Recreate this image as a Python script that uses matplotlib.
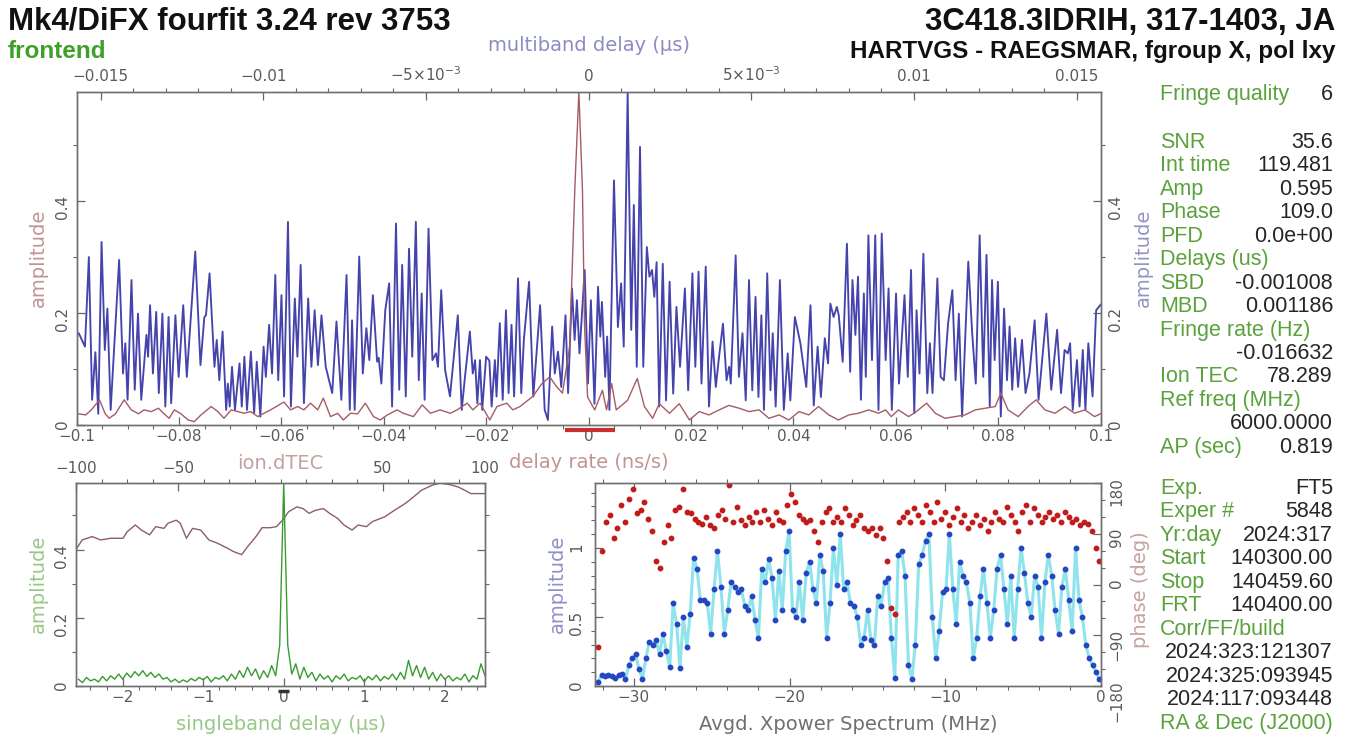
import matplotlib
matplotlib.use("Agg")
import matplotlib.pyplot as plt
import numpy as np
from matplotlib.ticker import FixedLocator, FixedFormatter, MultipleLocator, FuncFormatter
from matplotlib.transforms import blended_transform_factory

W, H = 1357, 740

# multiband delay amplitude (delay in ns, amplitude)
mbd_points = [
    (-15.74, 0.16), (-15.67, 0.164), (-15.48, 0.14), (-15.36, 0.30), (-15.26, 0.045), (-15.16, 0.13),
    (-15.07, 0.02), (-14.97, 0.327), (-14.87, 0.134), (-14.79, 0.208), (-14.69, 0.027), (-14.43, 0.295),
    (-14.31, 0.092), (-14.24, 0.146), (-14.17, 0.045), (-14.05, 0.259), (-13.95, 0.063), (-13.85, 0.199),
    (-13.75, 0.045), (-13.59, 0.161), (-13.54, 0.122), (-13.48, 0.214), (-13.39, 0.092), (-13.29, 0.202),
    (-13.21, 0.057), (-13.10, 0.199), (-13.01, 0.033), (-12.91, 0.193), (-12.83, 0.039), (-12.70, 0.196),
    (-12.60, 0.086), (-12.46, 0.214), (-12.35, 0.086), (-12.09, 0.31), (-11.93, 0.107), (-11.81, 0.193),
    (-11.76, 0.196), (-11.65, 0.271), (-11.50, 0.104), (-11.43, 0.152), (-11.35, 0.080), (-11.25, 0.167),
    (-11.14, 0.027), (-11.09, 0.074), (-11.03, 0.033), (-10.96, 0.104), (-10.87, 0.027), (-10.73, 0.110),
    (-10.66, 0.033), (-10.58, 0.122), (-10.50, 0.027), (-10.38, 0.131), (-10.28, 0.021), (-10.20, 0.113),
    (-10.09, 0.015), (-9.99, 0.140), (-9.92, 0.086), (-9.82, 0.179), (-9.73, 0.092), (-9.63, 0.268),
    (-9.54, 0.080), (-9.44, 0.232), (-9.36, 0.051), (-9.24, 0.363), (-9.15, 0.033), (-9.03, 0.226),
    (-8.95, 0.122), (-8.85, 0.286), (-8.75, 0.039), (-8.62, 0.226), (-8.52, 0.104), (-8.42, 0.205),
    (-8.32, 0.107), (-8.21, 0.196), (-8.08, 0.104), (-7.88, 0.057), (-7.75, 0.185), (-7.60, 0.045),
    (-7.44, 0.268), (-7.34, 0.027), (-7.27, 0.187), (-7.19, 0.027), (-7.05, 0.301), (-6.94, 0.092),
    (-6.83, 0.173), (-6.74, 0.116), (-6.63, 0.232), (-6.50, 0.113), (-6.45, 0.12), (-6.37, 0.074),
    (-6.25, 0.205), (-6.13, 0.253), (-6.04, 0.033), (-5.92, 0.36), (-5.82, 0.063), (-5.73, 0.286),
    (-5.62, 0.051), (-5.52, 0.315), (-5.42, 0.122), (-5.31, 0.363), (-5.22, 0.080), (-5.13, 0.235),
    (-5.04, 0.045), (-4.92, 0.351), (-4.80, 0.116), (-4.69, 0.128), (-4.63, 0.104), (-4.53, 0.241),
    (-4.41, 0.098), (-4.26, 0.051), (-4.02, 0.196), (-3.90, 0.027), (-3.80, 0.086), (-3.65, 0.167),
    (-3.56, 0.092), (-3.49, 0.116), (-3.42, 0.039), (-3.34, 0.116), (-3.27, 0.027), (-3.15, 0.122),
    (-3.05, 0.115), (-2.98, 0.033), (-2.88, 0.116), (-2.83, 0.051), (-2.73, 0.182), (-2.64, 0.045),
    (-2.54, 0.205), (-2.46, 0.057), (-2.37, 0.179), (-2.29, 0.051), (-2.17, 0.262), (-2.07, 0.057),
    (-1.99, 0.152), (-1.83, 0.256), (-1.70, 0.051), (-1.49, 0.214), (-1.35, 0.027), (-1.25, 0.009),
    (-1.12, 0.176), (-1.04, 0.092), (-0.94, 0.131), (-0.84, 0.068), (-0.71, 0.196), (-0.63, 0.057),
    (-0.51, 0.244), (-0.43, 0.152), (-0.36, 0.223), (-0.28, 0.128), (-0.12, 0.277), (-0.02, 0.074),
    (0.07, 0.223), (0.18, 0.038), (0.29, 0.247), (0.36, 0.158), (0.41, 0.220), (0.51, 0.086),
    (0.57, 0.158), (0.64, 0.027), (0.78, 0.437), (0.90, 0.175), (1.00, 0.253), (1.08, 0.14),
    (1.20, 0.595), (1.31, 0.17), (1.39, 0.393), (1.48, 0.104), (1.58, 0.497), (1.68, 0.104),
    (1.79, 0.318), (1.87, 0.265), (1.95, 0.277), (2.02, 0.229), (2.09, 0.291), (2.17, 0.033),
    (2.28, 0.288), (2.38, 0.044), (2.49, 0.256), (2.60, 0.056), (2.70, 0.211), (2.81, 0.104),
    (2.96, 0.244), (3.06, 0.062), (3.19, 0.271), (3.28, 0.104), (3.38, 0.274), (3.47, 0.074),
    (3.60, 0.283), (3.70, 0.033), (3.81, 0.149), (3.91, 0.068), (4.01, 0.122), (4.13, 0.181),
    (4.24, 0.080), (4.32, 0.104), (4.37, 0.074), (4.52, 0.303), (4.62, 0.086), (4.73, 0.164),
    (4.83, 0.044), (4.93, 0.259), (5.03, 0.062), (5.13, 0.229), (5.22, 0.050), (5.31, 0.196),
    (5.39, 0.027), (5.49, 0.271), (5.59, 0.062), (5.66, 0.164), (5.75, 0.033), (5.88, 0.259),
    (6.00, 0.027), (6.12, 0.128), (6.20, 0.044), (6.34, 0.193), (6.51, 0.146), (6.69, 0.068),
    (6.82, 0.214), (6.92, 0.035), (7.04, 0.14), (7.14, 0.050), (7.26, 0.155), (7.36, 0.110),
    (7.43, 0.217), (7.53, 0.193), (7.63, 0.211), (7.69, 0.196), (7.81, 0.113), (7.94, 0.324),
    (8.04, 0.095), (8.11, 0.259), (8.20, 0.161), (8.28, 0.265), (8.37, 0.045), (8.46, 0.235),
    (8.52, 0.086), (8.60, 0.339), (8.71, 0.116), (8.81, 0.339), (8.91, 0.027), (9.01, 0.342),
    (9.13, 0.116), (9.22, 0.244), (9.32, 0.027), (9.45, 0.235), (9.54, 0.074), (9.71, 0.232),
    (9.81, 0.086), (9.91, 0.277), (10.01, 0.021), (10.08, 0.205), (10.17, 0.092), (10.29, 0.306),
    (10.41, 0.057), (10.49, 0.146), (10.57, 0.057), (10.72, 0.262), (10.82, 0.086), (10.92, 0.080),
    (11.05, 0.182), (11.18, 0.241), (11.28, 0.080), (11.38, 0.199), (11.48, 0.015), (11.67, 0.292),
    (11.79, 0.164), (11.90, 0.074), (12.02, 0.339), (12.13, 0.086), (12.23, 0.304), (12.33, 0.033),
    (12.40, 0.259), (12.48, 0.116), (12.58, 0.256), (12.67, 0.015), (12.77, 0.208), (12.86, 0.080),
    (12.94, 0.176), (13.02, 0.063), (13.11, 0.155), (13.20, 0.068), (13.32, 0.152), (13.43, 0.057),
    (13.55, 0.092), (13.71, 0.187), (13.83, 0.045), (14.07, 0.199), (14.22, 0.063), (14.40, 0.170),
    (14.52, 0.057), (14.63, 0.134), (14.73, 0.128), (14.80, 0.146), (14.88, 0.027), (15.01, 0.116),
    (15.09, 0.033), (15.19, 0.134), (15.27, 0.027), (15.36, 0.146), (15.49, 0.051), (15.60, 0.205),
    (15.74, 0.215),
]

# delay rate amplitude (ns/s, amplitude)
rate_points = [
    (-0.1000, 0.02), (-0.0996, 0.02), (-0.0982, 0.018), (-0.0971, 0.027), (-0.0955, 0.045), (-0.0944, 0.02),
    (-0.0936, 0.012), (-0.0924, 0.02), (-0.0907, 0.045), (-0.0893, 0.027), (-0.0879, 0.02), (-0.0868, 0.027),
    (-0.0854, 0.024), (-0.0840, 0.03), (-0.0829, 0.02), (-0.0819, 0.012), (-0.0809, 0.027), (-0.0796, 0.02),
    (-0.0782, 0.009), (-0.0770, 0.006), (-0.0757, 0.018), (-0.0737, 0.033), (-0.0724, 0.024), (-0.0712, 0.012),
    (-0.0698, 0.027), (-0.0685, 0.024), (-0.0673, 0.021), (-0.0660, 0.024), (-0.0646, 0.015), (-0.0634, 0.021),
    (-0.0621, 0.027), (-0.0595, 0.041), (-0.0582, 0.027), (-0.0568, 0.033), (-0.0556, 0.027), (-0.0543, 0.039),
    (-0.0529, 0.027), (-0.0518, 0.048), (-0.0504, 0.015), (-0.0490, 0.021), (-0.0479, 0.009), (-0.0465, 0.021),
    (-0.0451, 0.02), (-0.0436, 0.039), (-0.0420, 0.015), (-0.0407, 0.009), (-0.0393, 0.018), (-0.0374, 0.027),
    (-0.0362, 0.021), (-0.0342, 0.015), (-0.0325, 0.036), (-0.0309, 0.021), (-0.0290, 0.027), (-0.0270, 0.021),
    (-0.0257, 0.027), (-0.0237, 0.039), (-0.0226, 0.027), (-0.0212, 0.039), (-0.0193, 0.009), (-0.0179, 0.033),
    (-0.0160, 0.039), (-0.0148, 0.027), (-0.0134, 0.033), (-0.0109, 0.051), (-0.0091, 0.074), (-0.0076, 0.086),
    (-0.0062, 0.068), (-0.0051, 0.057), (-0.0037, 0.14), (-0.0027, 0.42), (-0.0019, 0.595), (-0.0012, 0.42),
    (-0.0008, 0.18), (-0.0002, 0.05), (0.0012, 0.027), (0.0027, 0.062), (0.0035, 0.027), (0.0045, 0.074),
    (0.0054, 0.027), (0.0076, 0.044), (0.0095, 0.083), (0.0109, 0.033), (0.0125, 0.012), (0.0138, 0.038),
    (0.0158, 0.021), (0.0177, 0.038), (0.0197, 0.009), (0.0216, 0.024), (0.0235, 0.018), (0.0255, 0.027),
    (0.0274, 0.035), (0.0294, 0.03), (0.0313, 0.024), (0.0333, 0.027), (0.0352, 0.012), (0.0372, 0.018),
    (0.0391, 0.009), (0.0411, 0.024), (0.0430, 0.018), (0.0449, 0.033), (0.0469, 0.018), (0.0488, 0.009),
    (0.0508, 0.018), (0.0527, 0.021), (0.0547, 0.027), (0.0566, 0.021), (0.0580, 0.027), (0.0591, 0.015),
    (0.0605, 0.027), (0.0625, 0.015), (0.0640, 0.024), (0.0660, 0.039), (0.0677, 0.021), (0.0696, 0.012),
    (0.0716, 0.015), (0.0735, 0.018), (0.0755, 0.027), (0.0774, 0.03), (0.0794, 0.033), (0.0805, 0.057),
    (0.0819, 0.027), (0.0839, 0.015), (0.0858, 0.033), (0.0874, 0.045), (0.0891, 0.027), (0.0911, 0.021),
    (0.0930, 0.033), (0.0949, 0.021), (0.0969, 0.027), (0.0988, 0.015), (0.1000, 0.02),
]
rate_window = (-0.0047, 0.0051)

# singleband delay amplitude, one value every 0.05 us from -2.55 us
sbd_start, sbd_step = -2.55, 0.05
sbd_amp = [
    0.02, 0.01, 0.025, 0.015, 0.02, 0.012, 0.028, 0.015, 0.03, 0.02,
    0.035, 0.02, 0.038, 0.025, 0.042, 0.03, 0.045, 0.028, 0.04, 0.025,
    0.035, 0.02, 0.025, 0.012, 0.02, 0.01, 0.018, 0.012, 0.022, 0.015,
    0.025, 0.018, 0.028, 0.012, 0.025, 0.02, 0.03, 0.015, 0.035, 0.02,
    0.045, 0.025, 0.055, 0.03, 0.05, 0.02, 0.045, 0.025, 0.06, 0.03,
    0.12, 0.595, 0.12, 0.035, 0.065, 0.02, 0.055, 0.025, 0.04, 0.015,
    0.035, 0.02, 0.03, 0.012, 0.03, 0.02, 0.035, 0.015, 0.025, 0.02,
    0.03, 0.012, 0.028, 0.018, 0.032, 0.015, 0.028, 0.02, 0.035, 0.018,
    0.04, 0.02, 0.075, 0.03, 0.06, 0.025, 0.055, 0.02, 0.04, 0.015,
    0.035, 0.02, 0.03, 0.015, 0.025, 0.018, 0.035, 0.012, 0.03, 0.02,
    0.065, 0.03,
]
sbd_window = (-0.07, 0.07)

# ionosphere search (dTEC, amplitude)
ion_points = [
    (-100, 0.40), (-97, 0.428), (-92, 0.438), (-88, 0.428), (-83, 0.433), (-77, 0.433), (-75, 0.452),
    (-71, 0.472), (-68, 0.457), (-64, 0.443), (-61, 0.467), (-57, 0.462), (-55, 0.477), (-51, 0.486),
    (-49, 0.477), (-46, 0.433), (-43, 0.462), (-39, 0.457), (-35, 0.428), (-31, 0.419), (-26, 0.404),
    (-23, 0.394), (-19, 0.385), (-16, 0.409), (-12, 0.438), (-9, 0.464), (-5, 0.464), (-2, 0.467),
    (1, 0.486), (4, 0.511), (8, 0.525), (11, 0.520), (14, 0.506), (17, 0.515), (21, 0.520), (24, 0.506),
    (28, 0.491), (31, 0.472), (35, 0.457), (38, 0.472), (42, 0.467), (45, 0.482), (51, 0.496), (56, 0.516),
    (61, 0.535), (65, 0.554), (69, 0.574), (74, 0.588), (78, 0.595), (83, 0.590), (87, 0.583), (90, 0.574),
    (93, 0.564), (97, 0.564), (100, 0.564),
]

# cross power spectrum, channels evenly spread over the band
xp_band = (-32.3, -0.1)
xp_amp = [
    0.03, 0.08, 0.07, 0.08, 0.07, 0.06, 0.08, 0.09, 0.05, 0.15, 0.20, 0.23, 0.12, 0.05, 0.20, 0.32,
    0.30, 0.33, 0.23, 0.38, 0.25, 0.14, 0.60, 0.45, 0.13, 0.50, 0.28, 0.52, 0.93, 0.85, 0.62, 0.62,
    0.60, 0.38, 0.70, 0.98, 0.72, 0.38, 0.55, 0.75, 0.72, 0.68, 0.70, 0.58, 0.55, 0.65, 0.48, 0.35,
    0.85, 0.75, 0.92, 0.78, 0.48, 0.83, 0.55, 0.98, 1.12, 0.55, 0.50, 0.75, 0.48, 0.82, 0.90, 0.70,
    0.60, 0.95, 0.83, 0.35, 0.60, 1.00, 0.73, 1.10, 0.70, 0.75, 0.60, 0.58, 0.50, 0.30, 0.35, 0.55,
    0.33, 0.30, 0.65, 0.58, 0.75, 0.78, 0.35, 0.06, 0.95, 0.98, 0.80, 0.15, 0.05, 0.30, 0.88, 0.95,
    1.05, 1.10, 0.50, 0.20, 0.40, 0.68, 0.70, 1.10, 0.70, 0.45, 0.90, 0.80, 0.75, 0.60, 0.20, 0.35,
    0.65, 0.85, 0.60, 0.35, 0.55, 0.85, 0.95, 0.70, 0.45, 0.80, 0.35, 0.70, 1.00, 0.82, 0.60, 0.50,
    0.80, 0.72, 0.35, 0.75, 0.95, 0.80, 0.55, 0.38, 0.72, 0.85, 0.62, 0.40, 1.00, 0.62, 0.50, 0.30,
    0.20, 0.15, 0.10, 0.05,
]
xp_phase = [
    -111, 59, 111, 123, 82, 100, 141, 111, 152, 170, 126, 132, 147, 117, 94, 41, 29, 76, 105, 82,
    132, 138, 170, 129, 126, 117, 111, 108, 120, 105, 100, 123, 132, 117, 176, 111, 138, 114, 105, 120,
    111, 129, 111, 132, 117, 105, 129, 114, 111, 141, 161, 147, 123, 117, 111, 114, 94, 76, 111, 129,
    135, 111, 120, 111, 135, 123, 105, 114, 123, 100, 94, 100, 88, 100, 82, 41, -41, -53, 111, 120,
    129, 111, 135, 123, 111, 141, 129, 111, 147, 117, 129, 105, 120, 135, 111, 123, 100, 111, 123, 105,
    117, 94, 111, 129, 117, 111, 138, 123, 111, 94, 129, 141, 111, 135, 123, 111, 120, 129, 117, 123,
    111, 129, 120, 111, 117, 105, 111, 108, 94, 64, 41,
]

info_top = [
    ("SNR", "35.6"), ("Int time", "119.481"), ("Amp", "0.595"), ("Phase", "109.0"),
    ("PFD", "0.0e+00"), ("Delays (us)", ""), ("SBD", "-0.001008"), ("MBD", "0.001186"),
    ("Fringe rate (Hz)", ""), ("", "-0.016632"), ("Ion TEC", "78.289"), ("Ref freq (MHz)", ""),
    ("", "6000.0000"), ("AP (sec)", "0.819"),
]
info_bottom = [
    ("Exp.", "FT5"), ("Exper #", "5848"), ("Yr:day", "2024:317"), ("Start", "140300.00"),
    ("Stop", "140459.60"), ("FRT", "140400.00"), ("Corr/FF/build", ""), ("", "2024:323:121307"),
    ("", "2024:325:093945"), ("", "2024:117:093448"), ("RA & Dec (J2000)", ""),
]

plt.rcParams["font.family"] = "DejaVu Sans"
GREY = "#666666"
TICK_KW = dict(direction="in", colors=GREY, labelcolor="#5a5a5a", labelsize=11)


def fx(px):
    return px / W


def fy(py):
    return 1 - py / H


def style(ax):
    for sp in ax.spines.values():
        sp.set_color("#707070")
        sp.set_linewidth(1.0)
    ax.tick_params(which="major", length=6, width=0.9, **TICK_KW)
    ax.tick_params(which="minor", length=3, width=0.8, colors=GREY)


def num(v, pos=None):
    v = round(v, 6)
    if v == 0:
        return "0"
    return f"{v:g}".replace("-", "\u2212")


fig = plt.figure(figsize=(W / 100, H / 100), dpi=100)
fig.patch.set_facecolor("white")

# ---- top panel: delay rate (bottom axis) + multiband delay (top axis)
ax_r = fig.add_axes([fx(76.5), fy(425), fx(1100.7) - fx(76.5), (425 - 92) / H])
ax_m = ax_r.twiny()
ax_r.set_zorder(ax_m.get_zorder() + 1)
ax_r.patch.set_visible(False)

mbd_ns, mbd_amp = np.array(mbd_points).T
ax_m.plot(mbd_ns / 1000.0, mbd_amp, color="#4444ac", lw=1.35)
ax_m.set_xlim(-0.01574, 0.01574)

rate_x, rate_amp = np.array(rate_points).T
ax_r.plot(rate_x, rate_amp, color="#a45c66", lw=1.0)
ax_r.set_xlim(-0.1, 0.1)
ax_r.set_ylim(0, 0.595)
trans = blended_transform_factory(ax_r.transData, ax_r.transAxes)
ax_r.plot(rate_window, [-0.014, -0.014], color="#c83030", lw=3, transform=trans, clip_on=False,
          solid_capstyle="butt")

style(ax_r)
style(ax_m)
ax_r.xaxis.set_major_locator(MultipleLocator(0.02))
ax_r.xaxis.set_minor_locator(MultipleLocator(0.005))
ax_r.xaxis.set_major_formatter(FuncFormatter(num))
ax_r.yaxis.set_major_locator(MultipleLocator(0.2))
ax_r.yaxis.set_minor_locator(MultipleLocator(0.1))
ax_r.yaxis.set_major_formatter(FuncFormatter(num))
ax_r.tick_params(axis="x", which="both", top=False, pad=3)
ax_r.tick_params(axis="y", which="both", left=True, right=True, labelright=True, labelrotation=90, pad=5)

mbd_ticks = [-0.015, -0.01, -0.005, 0, 0.005, 0.01, 0.015]
ax_m.xaxis.set_major_locator(FixedLocator(mbd_ticks))
ax_m.xaxis.set_major_formatter(FixedFormatter(
    ["\u22120.015", "\u22120.01", r"$-5{\times}10^{-3}$", "0", r"$5{\times}10^{-3}$", "0.01", "0.015"]))
ax_m.xaxis.set_minor_locator(MultipleLocator(0.001))
ax_m.tick_params(axis="x", which="both", top=True, bottom=False, pad=6)

ax_r.text(0.5, 1.141, "multiband delay (\u00b5s)", transform=ax_r.transAxes, ha="center", va="center",
          fontsize=14, color="#8c8cc4")
ax_r.text(0.5, -0.114, "delay rate (ns/s)", transform=ax_r.transAxes, ha="center", va="center",
          fontsize=14, color="#c49494")
fig.text(fx(38), fy(258), "amplitude", rotation=90, ha="center", va="center", fontsize=14, color="#c09494")
fig.text(fx(1143), fy(258), "amplitude", rotation=90, ha="center", va="center", fontsize=14, color="#9494c4")

# ---- bottom left: singleband delay + ion TEC
ax_s = fig.add_axes([fx(76), fy(686), fx(485) - fx(76), (686 - 483) / H])
ax_i = ax_s.twiny()
ax_s.set_zorder(ax_i.get_zorder() + 1)
ax_s.patch.set_visible(False)

ion_x, ion_amp = np.array(ion_points).T
ax_i.plot(ion_x, ion_amp, color="#8c5e68", lw=1.0)
ax_i.set_xlim(-100, 100)

sbd_x = sbd_start + sbd_step * np.arange(len(sbd_amp))
ax_s.plot(sbd_x, sbd_amp, color="#3a9a32", lw=1.0)
ax_s.set_xlim(-2.58, 2.5)
ax_s.set_ylim(0, 0.595)
trans_s = blended_transform_factory(ax_s.transData, ax_s.transAxes)
ax_s.plot(sbd_window, [-0.025, -0.025], color="#333333", lw=2.5, transform=trans_s, clip_on=False,
          solid_capstyle="butt")

style(ax_s)
style(ax_i)
ax_s.xaxis.set_major_locator(MultipleLocator(1))
ax_s.xaxis.set_minor_locator(MultipleLocator(0.2))
ax_s.xaxis.set_major_formatter(FuncFormatter(num))
ax_s.yaxis.set_major_locator(MultipleLocator(0.2))
ax_s.yaxis.set_minor_locator(MultipleLocator(0.1))
ax_s.yaxis.set_major_formatter(FuncFormatter(num))
ax_s.tick_params(axis="x", which="both", top=False, pad=3)
ax_s.tick_params(axis="y", which="both", left=True, right=True, labelrotation=90, pad=5)
ax_i.xaxis.set_major_locator(FixedLocator([-100, -50, 50, 100]))
ax_i.xaxis.set_major_formatter(FuncFormatter(num))
ax_i.xaxis.set_minor_locator(MultipleLocator(12.5))
ax_i.tick_params(axis="x", which="both", top=True, bottom=False, pad=5)
ax_s.text(0.5, 1.098, "ion.dTEC", transform=ax_s.transAxes, ha="center", va="center",
          fontsize=14, color="#c4a0a0")
ax_s.text(0.5, -0.19, "singleband delay (\u00b5s)", transform=ax_s.transAxes, ha="center", va="center",
          fontsize=14, color="#98c888")
fig.text(fx(38), fy(584), "amplitude", rotation=90, ha="center", va="center", fontsize=14, color="#98c888")

# ---- bottom right: cross power spectrum
ax_x = fig.add_axes([fx(595), fy(686), fx(1101) - fx(595), (686 - 483) / H])
ax_p = ax_x.twinx()
xp_f = np.linspace(xp_band[0], xp_band[1], len(xp_amp))
xp_fp = np.linspace(xp_band[0], xp_band[1], len(xp_phase))
ax_x.plot(xp_f, xp_amp, color="#8fe3ec", lw=2.2, zorder=2)
ax_x.plot(xp_f, xp_amp, ls="none", marker="o", ms=3.2, color="#2446c0", zorder=3)
ax_p.plot(xp_fp, xp_phase, ls="none", marker="o", ms=3.2, color="#c01c1c")
ax_x.set_xlim(-32.5, 0)
ax_x.set_ylim(0, 1.47)
ax_p.set_ylim(-180, 180)

style(ax_x)
style(ax_p)
ax_x.xaxis.set_major_locator(MultipleLocator(10))
ax_x.xaxis.set_minor_locator(MultipleLocator(2))
ax_x.xaxis.set_major_formatter(FuncFormatter(num))
ax_x.yaxis.set_major_locator(MultipleLocator(0.5))
ax_x.yaxis.set_minor_locator(MultipleLocator(0.1))
ax_x.yaxis.set_major_formatter(FuncFormatter(num))
ax_x.tick_params(axis="x", which="both", top=True, pad=3)
ax_x.tick_params(axis="y", which="both", labelrotation=90, pad=8)
ax_p.yaxis.set_major_locator(FixedLocator([-180, -90, 0, 90, 180]))
ax_p.yaxis.set_major_formatter(FuncFormatter(num))
ax_p.yaxis.set_minor_locator(MultipleLocator(30))
ax_p.tick_params(axis="y", which="both", labelrotation=90, pad=6)
ax_x.text(0.5, -0.19, "Avgd. Xpower Spectrum (MHz)", transform=ax_x.transAxes, ha="center", va="center",
          fontsize=14, color="#707070")
fig.text(fx(557), fy(584), "amplitude", rotation=90, ha="center", va="center", fontsize=14, color="#9090c8")
fig.text(fx(1141), fy(590), "phase (deg)", rotation=90, ha="center", va="center", fontsize=14, color="#c8a0a0")

# ---- header text
HEAD = dict(family="Liberation Sans", fontweight="bold", va="baseline")
fig.text(fx(8), fy(30), "Mk4/DiFX fourfit 3.24 rev 3753", fontsize=22.5, color="#111111", ha="left", **HEAD)
fig.text(fx(8), fy(58), "frontend", fontsize=17.5, color="#3f9f2a", ha="left", **HEAD)
fig.text(fx(1335), fy(30), "3C418.3IDRIH, 317-1403, JA", fontsize=22.5, color="#111111", ha="right", **HEAD)
fig.text(fx(1335), fy(58), "HARTVGS - RAEGSMAR, fgroup X, pol lxy", fontsize=17.5, color="#111111",
         ha="right", **HEAD)

# ---- fringe summary column
INFO = dict(family="Liberation Sans", fontsize=15.5, va="baseline")
LAB_X, VAL_X, ROW = 1160, 1333, 23.45
GREEN, DARK = "#5aa23c", "#262626"


def info_row(y, label, value):
    if label:
        fig.text(fx(LAB_X), fy(y + 7), label, color=GREEN, ha="left", **INFO)
    if value:
        fig.text(fx(VAL_X), fy(y + 7), value, color=DARK, ha="right", **INFO)


info_row(93, "Fringe quality", "6")
for k, (lab, val) in enumerate(info_top):
    info_row(141 + k * ROW, lab, val)
for k, (lab, val) in enumerate(info_bottom):
    info_row(487 + k * ROW, lab, val)

fig.savefig("out.png", dpi=100, facecolor="white")
